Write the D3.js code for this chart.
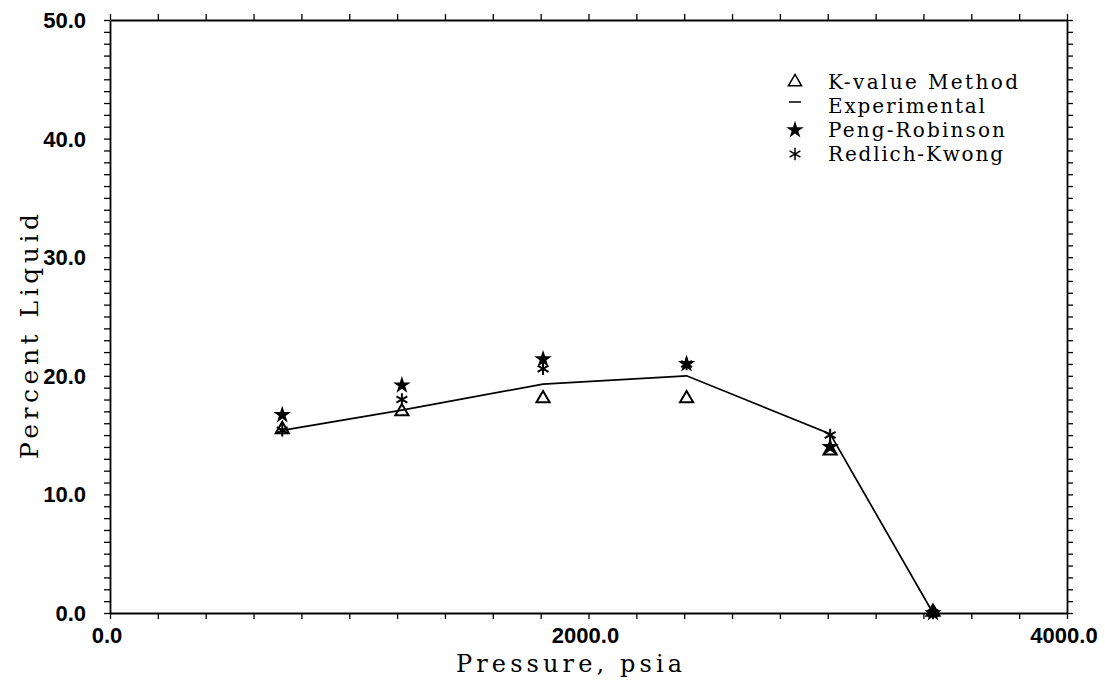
<!DOCTYPE html>
<html>
<head>
<meta charset="utf-8">
<script src="https://cdn.jsdelivr.net/npm/d3@7"></script>
<style>
  body { margin: 0; background: #fff; }
  svg { display: block; }
</style>
</head>
<body>
<div id="chart"></div>
<script>
// values
const pressure = [720, 1220, 1810, 2410, 3010, 3440];
const experimental = [15.4, 17.1, 19.3, 20.0, 15.1, 0.0];
const kValue = [15.4, 16.9, 18.0, 18.0, 13.6, 0.0];
const pengRobinson = [16.7, 19.2, 21.4, 21.0, 14.0, 0.0];
const redlichKwong = [15.4, 18.0, 20.6, 21.0, 15.0, 0.0];

const xTickLabels = [0, 2000, 4000];
const yTickLabels = [0, 10, 20, 30, 40, 50];
const legendLabels = ['K-value Method', 'Experimental', 'Peng-Robinson', 'Redlich-Kwong'];

const width = 1105, height = 683;
const margin = { top: 20, right: 38, bottom: 70, left: 110 };

const svg = d3.select('#chart').append('svg')
  .attr('width', width)
  .attr('height', height);

const x = d3.scaleLinear().domain([0, 4000]).range([margin.left, width - margin.right]);
const y = d3.scaleLinear().domain([0, 50]).range([height - margin.bottom, margin.top]);

const tickFont = '"Liberation Sans", Arial, sans-serif';
const serifFont = '"DejaVu Serif", "Liberation Serif", serif';

// frame with outward minor ticks on all four sides
const xMinor = d3.range(0, 4001, 200);
const yMinor = d3.range(0, 51, 1);

function frameAxis(axis, transform) {
  const g = svg.append('g').attr('transform', transform).call(axis);
  g.selectAll('text').remove();
  g.select('.domain').attr('stroke-width', 1.8);
  g.selectAll('.tick line').attr('stroke-width', 1.3);
  return g;
}

frameAxis(d3.axisBottom(x).tickValues(xMinor).tickSizeInner(6).tickSizeOuter(0),
  `translate(0,${y(0)})`);
frameAxis(d3.axisTop(x).tickValues(xMinor).tickSizeInner(6).tickSizeOuter(0),
  `translate(0,${y(50)})`);
frameAxis(d3.axisLeft(y).tickValues(yMinor).tickSizeInner(6).tickSizeOuter(0),
  `translate(${x(0)},0)`);
frameAxis(d3.axisRight(y).tickValues(yMinor).tickSizeInner(6).tickSizeOuter(0),
  `translate(${x(4000)},0)`);

// tick labels
svg.append('g').selectAll('text')
  .data(xTickLabels)
  .join('text')
  .attr('x', d => x(d) - 3)
  .attr('y', y(0) + 30)
  .attr('text-anchor', 'middle')
  .attr('font-family', tickFont)
  .attr('font-size', 22)
  .attr('font-weight', 'bold')
  .text(d => d.toFixed(1));

svg.append('g').selectAll('text')
  .data(yTickLabels)
  .join('text')
  .attr('x', x(0) - 24)
  .attr('y', d => y(d) + 8)
  .attr('text-anchor', 'end')
  .attr('font-family', tickFont)
  .attr('font-size', 22)
  .attr('font-weight', 'bold')
  .text(d => d.toFixed(1));

// axis titles
svg.append('text')
  .attr('x', 569)
  .attr('y', 672)
  .attr('text-anchor', 'middle')
  .attr('font-family', serifFont)
  .attr('font-size', 24)
  .attr('textLength', 226)
  .text('Pressure, psia');

svg.append('text')
  .attr('transform', `translate(38,${(y(0) + y(50)) / 2 + 20}) rotate(-90)`)
  .attr('text-anchor', 'middle')
  .attr('font-family', serifFont)
  .attr('font-size', 25)
  .attr('textLength', 245)
  .text('Percent Liquid');

// experimental line
const line = d3.line()
  .x((d, i) => x(pressure[i]))
  .y(d => y(d));

svg.append('path')
  .datum(experimental)
  .attr('d', line)
  .attr('fill', 'none')
  .attr('stroke', '#000')
  .attr('stroke-width', 1.7);

// markers
const triangle = d3.symbol().type(d3.symbolTriangle).size(75);
const star = d3.symbol().type(d3.symbolStar).size(95);
const asterisk = d3.symbol().type(d3.symbolAsterisk).size(110);

svg.append('g').selectAll('path')
  .data(kValue)
  .join('path')
  .attr('transform', (d, i) => `translate(${x(pressure[i])},${y(d) - 1})`)
  .attr('d', triangle)
  .attr('fill', 'none')
  .attr('stroke', '#000')
  .attr('stroke-width', 2);

svg.append('g').selectAll('path')
  .data(pengRobinson)
  .join('path')
  .attr('transform', (d, i) => `translate(${x(pressure[i])},${y(d)})`)
  .attr('d', star)
  .attr('fill', '#000');

svg.append('g').selectAll('path')
  .data(redlichKwong)
  .join('path')
  .attr('transform', (d, i) => `translate(${x(pressure[i])},${y(d)})`)
  .attr('d', asterisk)
  .attr('fill', 'none')
  .attr('stroke', '#000')
  .attr('stroke-width', 2);

// legend
const legendX = 795, legendY = 82, legendStep = 24;
const legend = svg.append('g');

legend.append('path')
  .attr('transform', `translate(${legendX},${legendY})`)
  .attr('d', triangle)
  .attr('fill', 'none')
  .attr('stroke', '#000')
  .attr('stroke-width', 1.5);

legend.append('line')
  .attr('x1', legendX - 6).attr('x2', legendX + 6)
  .attr('y1', legendY + legendStep - 4).attr('y2', legendY + legendStep - 4)
  .attr('stroke', '#000')
  .attr('stroke-width', 1.5);

legend.append('path')
  .attr('transform', `translate(${legendX},${legendY + legendStep * 2})`)
  .attr('d', star)
  .attr('fill', '#000');

legend.append('path')
  .attr('transform', `translate(${legendX},${legendY + legendStep * 3})`)
  .attr('d', asterisk)
  .attr('fill', 'none')
  .attr('stroke', '#000')
  .attr('stroke-width', 1.5);

const legendWidths = [190, 157, 177, 175];
legend.selectAll('text')
  .data(legendLabels)
  .join('text')
  .attr('x', legendX + 33)
  .attr('y', (d, i) => legendY + 7 + i * legendStep)
  .attr('font-family', serifFont)
  .attr('font-size', 20)
  .attr('textLength', (d, i) => legendWidths[i])
  .text(d => d);
</script>
</body>
</html>
